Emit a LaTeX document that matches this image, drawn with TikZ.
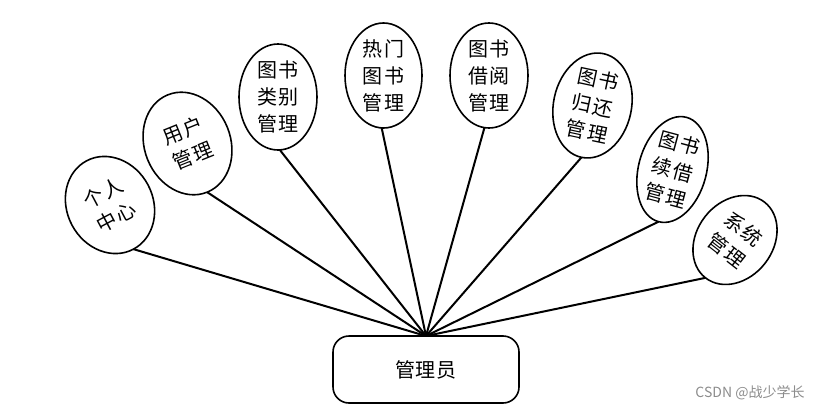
\documentclass[tikz,border=0pt]{standalone}
\usepackage{fontspec}
\newfontfamily\cjk[LetterSpace=8]{Noto Sans CJK SC}
\newfontfamily\cjkroot[LetterSpace=4]{Noto Sans CJK SC}
\newfontfamily\cjkplain{Noto Sans CJK SC}
\usetikzlibrary{shapes.geometric}
\begin{document}
\begin{tikzpicture}[x=1pt,y=-1pt,
  item/.style={ellipse,draw,line width=1.6pt,inner sep=0pt,outer sep=0pt,align=center,
    font=\cjk\fontsize{20}{27}\selectfont},
  link/.style={line width=2pt},
  rootbox/.style={draw,line width=1.6pt,rounded corners=16pt,minimum width=186pt,
    minimum height=67pt,outer sep=0pt,font=\cjkroot\fontsize{20}{24}\selectfont}]
\useasboundingbox (0,0) rectangle (832,412);
\node[rootbox] (root) at (426,369.5) {管理员};
\node[item,minimum width=86pt,minimum height=100pt,rotate=28] (e1) at (110,205) {个人\\中心};
\node[item,minimum width=86pt,minimum height=105pt,rotate=22] (e2) at (187.5,143.5) {用户\\管理};
\node[item,minimum width=78pt,minimum height=106pt] (e3) at (278,97) {图书\\类别\\管理};
\node[item,minimum width=77pt,minimum height=105pt] (e4) at (383.5,75.5) {热门\\图书\\管理};
\node[item,minimum width=78pt,minimum height=105pt] (e5) at (489,75.5) {图书\\借阅\\管理};
\node[item,minimum width=78pt,minimum height=106pt,rotate=-12] (e6) at (592.5,105.5) {图书\\归还\\管理};
\node[item,minimum width=68pt,minimum height=108pt,rotate=-15] (e7) at (672.5,169.5) {图书\\续借\\管理};
\node[item,minimum width=76pt,minimum height=96pt,rotate=-38] (e8) at (735,240) {系统\\管理};
\draw[link] (e1.south) -- (root.north);
\draw[link] (e2.south) -- (root.north);
\draw[link] (e3.272) -- (root.north);
\draw[link] (e4.268) -- (root.north);
\draw[link] (e5.265) -- (root.north);
\draw[link] (e6.south) -- (root.north);
\draw[link] (e7.south) -- (root.north);
\draw[link] (e8.south) -- (root.north);
\node[text=black!45,font=\cjkplain\fontsize{14}{16}\selectfont] (wm) at (750,393) {CSDN @战少学长};
\end{tikzpicture}
\end{document}
